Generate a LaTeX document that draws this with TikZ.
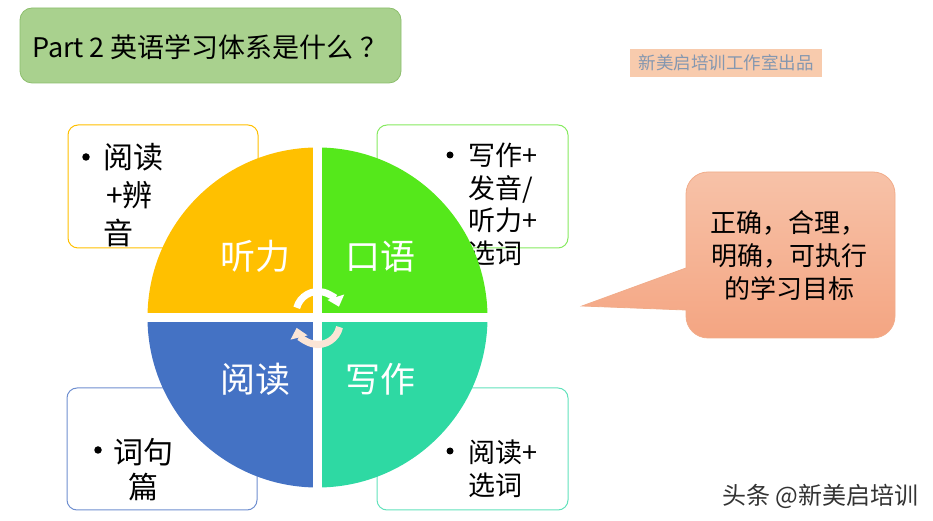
\documentclass[tikz,border=0pt]{standalone}
\usepackage{fontspec}
\setmainfont{Noto Sans CJK SC}
\usetikzlibrary{arrows.meta}
\definecolor{titlegreen}{HTML}{A9D18E}
\definecolor{titleedge}{HTML}{8CBE6C}
\definecolor{wmfill}{HTML}{F8CBAD}
\definecolor{wmtext}{HTML}{8497B0}
\definecolor{qyellow}{HTML}{FFC000}
\definecolor{qgreen}{HTML}{55E81B}
\definecolor{qblue}{HTML}{4472C4}
\definecolor{qteal}{HTML}{2ED9A3}
\definecolor{edgegreen}{HTML}{86EA60}
\definecolor{edgeblue}{HTML}{6F8FD0}
\definecolor{edgeteal}{HTML}{62E2BC}
\definecolor{peach}{HTML}{FBE5D6}
\definecolor{calltop}{HTML}{F7C2A8}
\definecolor{callbot}{HTML}{F4A582}
\definecolor{calledge}{HTML}{F1AC8A}
\definecolor{signgray}{HTML}{333333}
\newcommand{\myfs}[1]{\fontsize{#1}{#1}\selectfont}
\begin{document}
\begin{tikzpicture}[x=1pt,y=1pt,
  txt/.style={inner sep=0pt, anchor=base west},
  ctxt/.style={inner sep=0pt, anchor=base},
  bul/.style={circle, fill=black, inner sep=0pt, minimum size=7.5pt},
  itembox/.style={line width=1pt, rounded corners=10pt, fill=white},
  qlabel/.style={ctxt, text=white, font=\myfs{35}},
  cyc/.style={line width=7pt, -{Triangle[width=17pt,length=10pt]}}]
\useasboundingbox (0,0) rectangle (933,521);

% title
\draw[fill=titlegreen, draw=titleedge, line width=0.8pt, rounded corners=12pt] (20,438) rectangle (401,513);
\node[txt, font=\myfs{27}] (title) at (32,463.7) {Part 2 英语学习体系是什么\hspace{7pt}？};

% watermark top
\fill[wmfill] (630,444) rectangle (822,472);
\node[ctxt, font=\myfs{17.5}, text=wmtext] (wm) at (726,451.3) {新美启培训工作室出品};

% item boxes
\draw[itembox, draw=qyellow] (68,273) rectangle (258,396);
\draw[itembox, draw=edgegreen] (377,273) rectangle (568,396);
\draw[itembox, draw=edgeblue] (67,11) rectangle (257,133);
\draw[itembox, draw=edgeteal] (377,11) rectangle (568,133);

% top-left text
\node[bul] (b1) at (86,364) {};
\node[txt, font=\myfs{30}] (tl1) at (103,352.6) {阅读};
\node[txt, font=\myfs{30}] (tl2) at (106,314.6) {+辨};
\node[txt, font=\myfs{30}] (tl3) at (103,276.6) {音};

% top-right text
\node[bul, minimum size=7pt] (b2) at (450,366) {};
\node[txt, font=\myfs{27}] (tr1) at (468,355.7) {写作+};
\node[txt, font=\myfs{27}] (tr2) at (468,322.7) {发音/};
\node[txt, font=\myfs{27}] (tr3) at (468,290.7) {听力+};
\node[txt, font=\myfs{27}] (tr4) at (468,257.7) {选词};

% bottom-left text
\node[bul] (b3) at (98,71) {};
\node[txt, font=\myfs{30}] (bl1) at (113,57.6) {词句};
\node[txt, font=\myfs{30}] (bl2) at (128,22.6) {篇};

% bottom-right text
\node[bul, minimum size=7pt] (b4) at (450,70) {};
\node[txt, font=\myfs{27}] (br1) at (468,58.7) {阅读+};
\node[txt, font=\myfs{27}] (br2) at (468,25.7) {选词};

% circle
\coordinate (c) at (317.5,203.5);
\fill[qyellow] (c) -- ++(90:170) arc[start angle=90, end angle=180, radius=170] -- cycle;
\fill[qgreen] (c) -- ++(0:170) arc[start angle=0, end angle=90, radius=170] -- cycle;
\fill[qblue] (c) -- ++(180:170) arc[start angle=180, end angle=270, radius=170] -- cycle;
\fill[qteal] (c) -- ++(270:170) arc[start angle=270, end angle=360, radius=170] -- cycle;
\draw[white, line width=9pt] ([xshift=-171pt]c) -- ([xshift=171pt]c);
\draw[white, line width=9pt] ([yshift=-171pt]c) -- ([yshift=171pt]c);

\node[qlabel] (q1) at (255,251.7) {听力};
\node[qlabel] (q2) at (380,251.7) {口语};
\node[qlabel] (q3) at (255,128.7) {阅读};
\node[qlabel] (q4) at (380,128.7) {写作};

% cycle arrows
\coordinate (ca) at (318,207.5);
\coordinate (cb) at (318,198.5);
\draw[cyc, white] ([shift={(165:22)}]ca) arc[start angle=165, end angle=18, radius=22];
\draw[cyc, peach] ([shift={(-12:22)}]cb) arc[start angle=-12, end angle=-166, radius=22];

% callout
\path[top color=calltop, bottom color=callbot, draw=calledge, line width=0.8pt]
  (686,253) -- (686,327) arc[start angle=180, end angle=90, radius=22]
  -- (873,349) arc[start angle=90, end angle=0, radius=22]
  -- (895,205) arc[start angle=0, end angle=-90, radius=22]
  -- (708,183) arc[start angle=270, end angle=180, radius=22]
  -- (686,211) -- (582,215) -- cycle;
\node[ctxt, font=\myfs{26}] (co1) at (788,288.6) {正确，合理，};
\node[ctxt, font=\myfs{26}] (co2) at (789,255.1) {明确，可执行};
\node[ctxt, font=\myfs{26}] (co3) at (789,222.1) {的学习目标};

% signature
\node[txt, font=\myfs{24}, text=signgray] (sign) at (722,16) {头条 @新美启培训};
\end{tikzpicture}
\end{document}
